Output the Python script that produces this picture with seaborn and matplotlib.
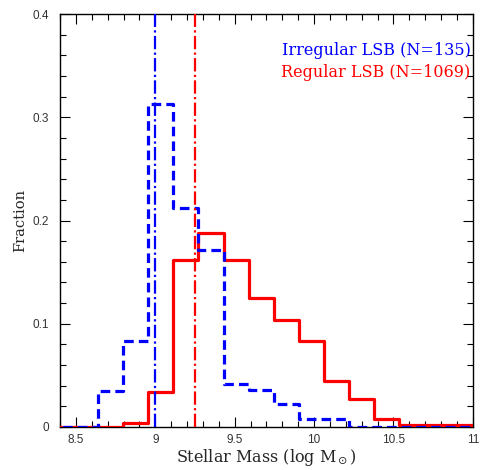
import matplotlib
matplotlib.use("Agg")
import matplotlib.pyplot as plt
import seaborn as sns
import numpy as np
from matplotlib.ticker import MultipleLocator, FixedLocator

# ---- data ----
bin_edges = [8.324, 8.482, 8.64, 8.798, 8.956, 9.114, 9.272, 9.43, 9.588,
             9.746, 9.904, 10.062, 10.22, 10.378, 10.536, 10.694, 10.852, 11.01]
irregular_frac = [0, 0, 0.035, 0.083, 0.313, 0.212, 0.171, 0.042, 0.036,
                  0.022, 0.008, 0.008, 0, 0, 0, 0, 0]
regular_frac = [0, 0, 0, 0.004, 0.034, 0.162, 0.188, 0.162, 0.125,
                0.104, 0.083, 0.045, 0.027, 0.008, 0.002, 0.002, 0.002]
irregular_median = 9.0
regular_median = 9.25
legend_labels = ["Irregular LSB (N=135)", "Regular LSB (N=1069)"]
x_ticks = [8.5, 9, 9.5, 10, 10.5, 11]
x_tick_labels = ["8.5", "9", "9.5", "10", "10.5", "11"]
y_ticks = [0, 0.1, 0.2, 0.3, 0.4]
y_tick_labels = ["0", "0.1", "0.2", "0.3", "0.4"]

sns.set_theme(style="ticks")
plt.rcParams['font.family'] = ['Liberation Sans', 'DejaVu Sans']

fig = plt.figure(figsize=(4.8, 4.7), dpi=100)
ax = fig.add_axes([0.125, 0.0915, 0.86, 0.8785])

centers = [(bin_edges[i] + bin_edges[i + 1]) / 2 for i in range(len(bin_edges) - 1)]

sns.histplot(x=centers, weights=regular_frac, bins=bin_edges, element="step",
             fill=False, color="#ff0000", linewidth=2.3, ax=ax, zorder=3)
sns.histplot(x=centers, weights=irregular_frac, bins=bin_edges, element="step",
             fill=False, color="#0000ff", linewidth=2.3, ax=ax, zorder=4,
             linestyle=(0, (3, 1.6)))

ax.axvline(irregular_median, color="#0000ff", lw=1.6, ls=(0, (6, 1.5, 1, 1.5)), zorder=5)
ax.axvline(regular_median, color="#ff0000", lw=1.6, ls=(0, (6, 1.5, 1, 1.5)), zorder=5)

ax.set_xlim(8.4, 11.0)
ax.set_ylim(0, 0.4)
ax.xaxis.set_major_locator(FixedLocator(x_ticks))
ax.set_xticklabels(x_tick_labels)
ax.yaxis.set_major_locator(FixedLocator(y_ticks))
ax.set_yticklabels(y_tick_labels)
ax.xaxis.set_minor_locator(MultipleLocator(0.1))
ax.yaxis.set_minor_locator(MultipleLocator(0.02))
ax.tick_params(which="both", direction="in", top=True, right=True, labelsize=8.5,
               colors="black", labelcolor="#333333")
ax.tick_params(which="major", length=7, width=0.8)
ax.tick_params(which="minor", length=4, width=0.8)
ax.tick_params(axis="x", pad=5)
ax.tick_params(axis="y", pad=8)
for s in ax.spines.values():
    s.set_linewidth(1.0)
    s.set_color("black")

ax.set_xlabel(r"Stellar Mass (log M$_\odot$)", family="DejaVu Serif", fontsize=11.5, labelpad=1)
ax.set_ylabel("Fraction", family="DejaVu Serif", fontsize=10.5, labelpad=4)

ax.text(0.995, 0.911, legend_labels[0], transform=ax.transAxes, ha="right", va="center",
        color="#0000ff", family="DejaVu Serif", fontsize=11.5)
ax.text(0.995, 0.859, legend_labels[1], transform=ax.transAxes, ha="right", va="center",
        color="#ff0000", family="DejaVu Serif", fontsize=11.5)

fig.savefig("out.png", dpi=100)
